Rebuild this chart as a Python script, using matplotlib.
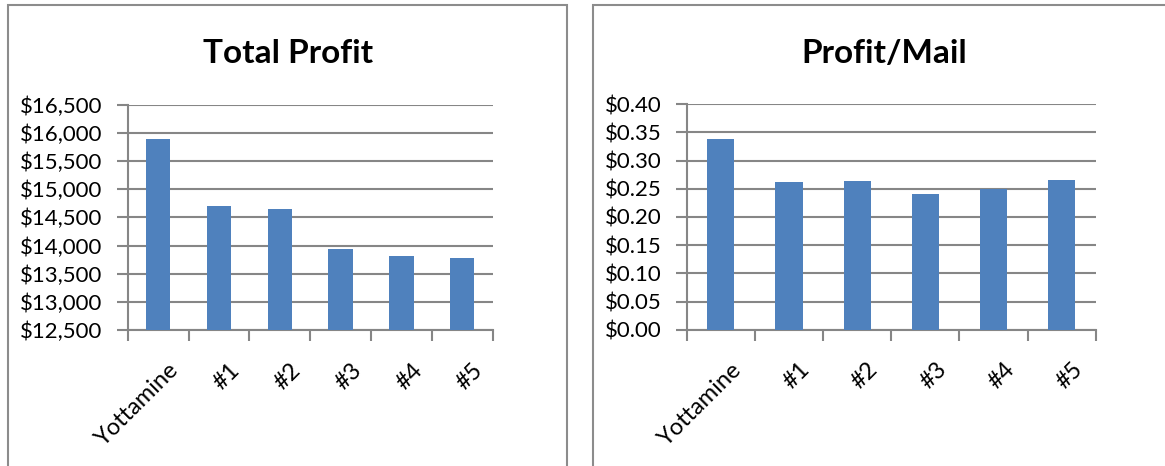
import matplotlib.pyplot as plt
from matplotlib.patches import Rectangle
from matplotlib.ticker import FuncFormatter, FixedLocator
from matplotlib.transforms import ScaledTranslation
import numpy as np

plt.rcParams['font.family'] = ['Lato', 'DejaVu Sans']

categories = ["Yottamine", "#1", "#2", "#3", "#4", "#5"]
total_profit = [15885, 14700, 14650, 13930, 13810, 13775]
profit_per_mail = [0.338, 0.2615, 0.263, 0.241, 0.249, 0.266]

bar_color = "#4F81BD"
grid_color = "#868686"

fig = plt.figure(figsize=(11.65, 4.66), dpi=100)

# panel frames like the spreadsheet chart boxes
for x0, x1 in [(8, 567), (593, 1170)]:
    fig.patches.append(Rectangle((x0 / 1165, -0.1), (x1 - x0) / 1165, 1.089,
                                 transform=fig.transFigure, fill=False,
                                 edgecolor="#8C8C8C", linewidth=1.5))


def draw_panel(rect, values, title, title_x, ylim, step, fmt):
    ax = fig.add_axes(rect)
    x = np.arange(len(categories))
    ax.bar(x, values, width=0.4, color=bar_color, zorder=3)
    ax.set_xlim(-0.5, len(categories) - 0.5)
    ax.set_ylim(*ylim)
    ax.set_yticks(np.arange(ylim[0], ylim[1] + step / 2, step))
    ax.yaxis.set_major_formatter(FuncFormatter(fmt))
    ax.set_xticks(x)
    ax.set_xticklabels(categories, rotation=45, ha="right", va="top",
                       rotation_mode="anchor", fontsize=17)
    ax.tick_params(axis="x", which="major", length=0, pad=21)
    ax.xaxis.set_minor_locator(FixedLocator(np.arange(-0.5, len(categories), 1)))
    ax.tick_params(axis="x", which="minor", length=8, color=grid_color, width=1.5)
    ax.tick_params(axis="y", length=8, color=grid_color, width=1.5, labelsize=16, pad=10)
    # nudge the slanted labels right, like Excel does
    shift = ScaledTranslation(10 / 100, 0, fig.dpi_scale_trans)
    for lbl in ax.get_xticklabels():
        lbl.set_transform(lbl.get_transform() + shift)
    ax.grid(axis="y", color=grid_color, linewidth=1.5, zorder=0)
    for s in ["top", "right"]:
        ax.spines[s].set_visible(False)
    for s in ["left", "bottom"]:
        ax.spines[s].set_color(grid_color)
        ax.spines[s].set_linewidth(1.5)
    ax.set_title(title, fontsize=24, fontweight="bold", pad=30, x=title_x)
    return ax


draw_panel([0.1096, 0.2918, 0.3133, 0.4835], total_profit, "Total Profit", 0.439,
           (12500, 16500), 500, lambda v, p: "${:,.0f}".format(v))
draw_panel([0.5894, 0.2925, 0.3513, 0.4837], profit_per_mail, "Profit/Mail", 0.482,
           (0.0, 0.4), 0.05, lambda v, p: "${:.2f}".format(v))

fig.savefig("out.png", dpi=100)
